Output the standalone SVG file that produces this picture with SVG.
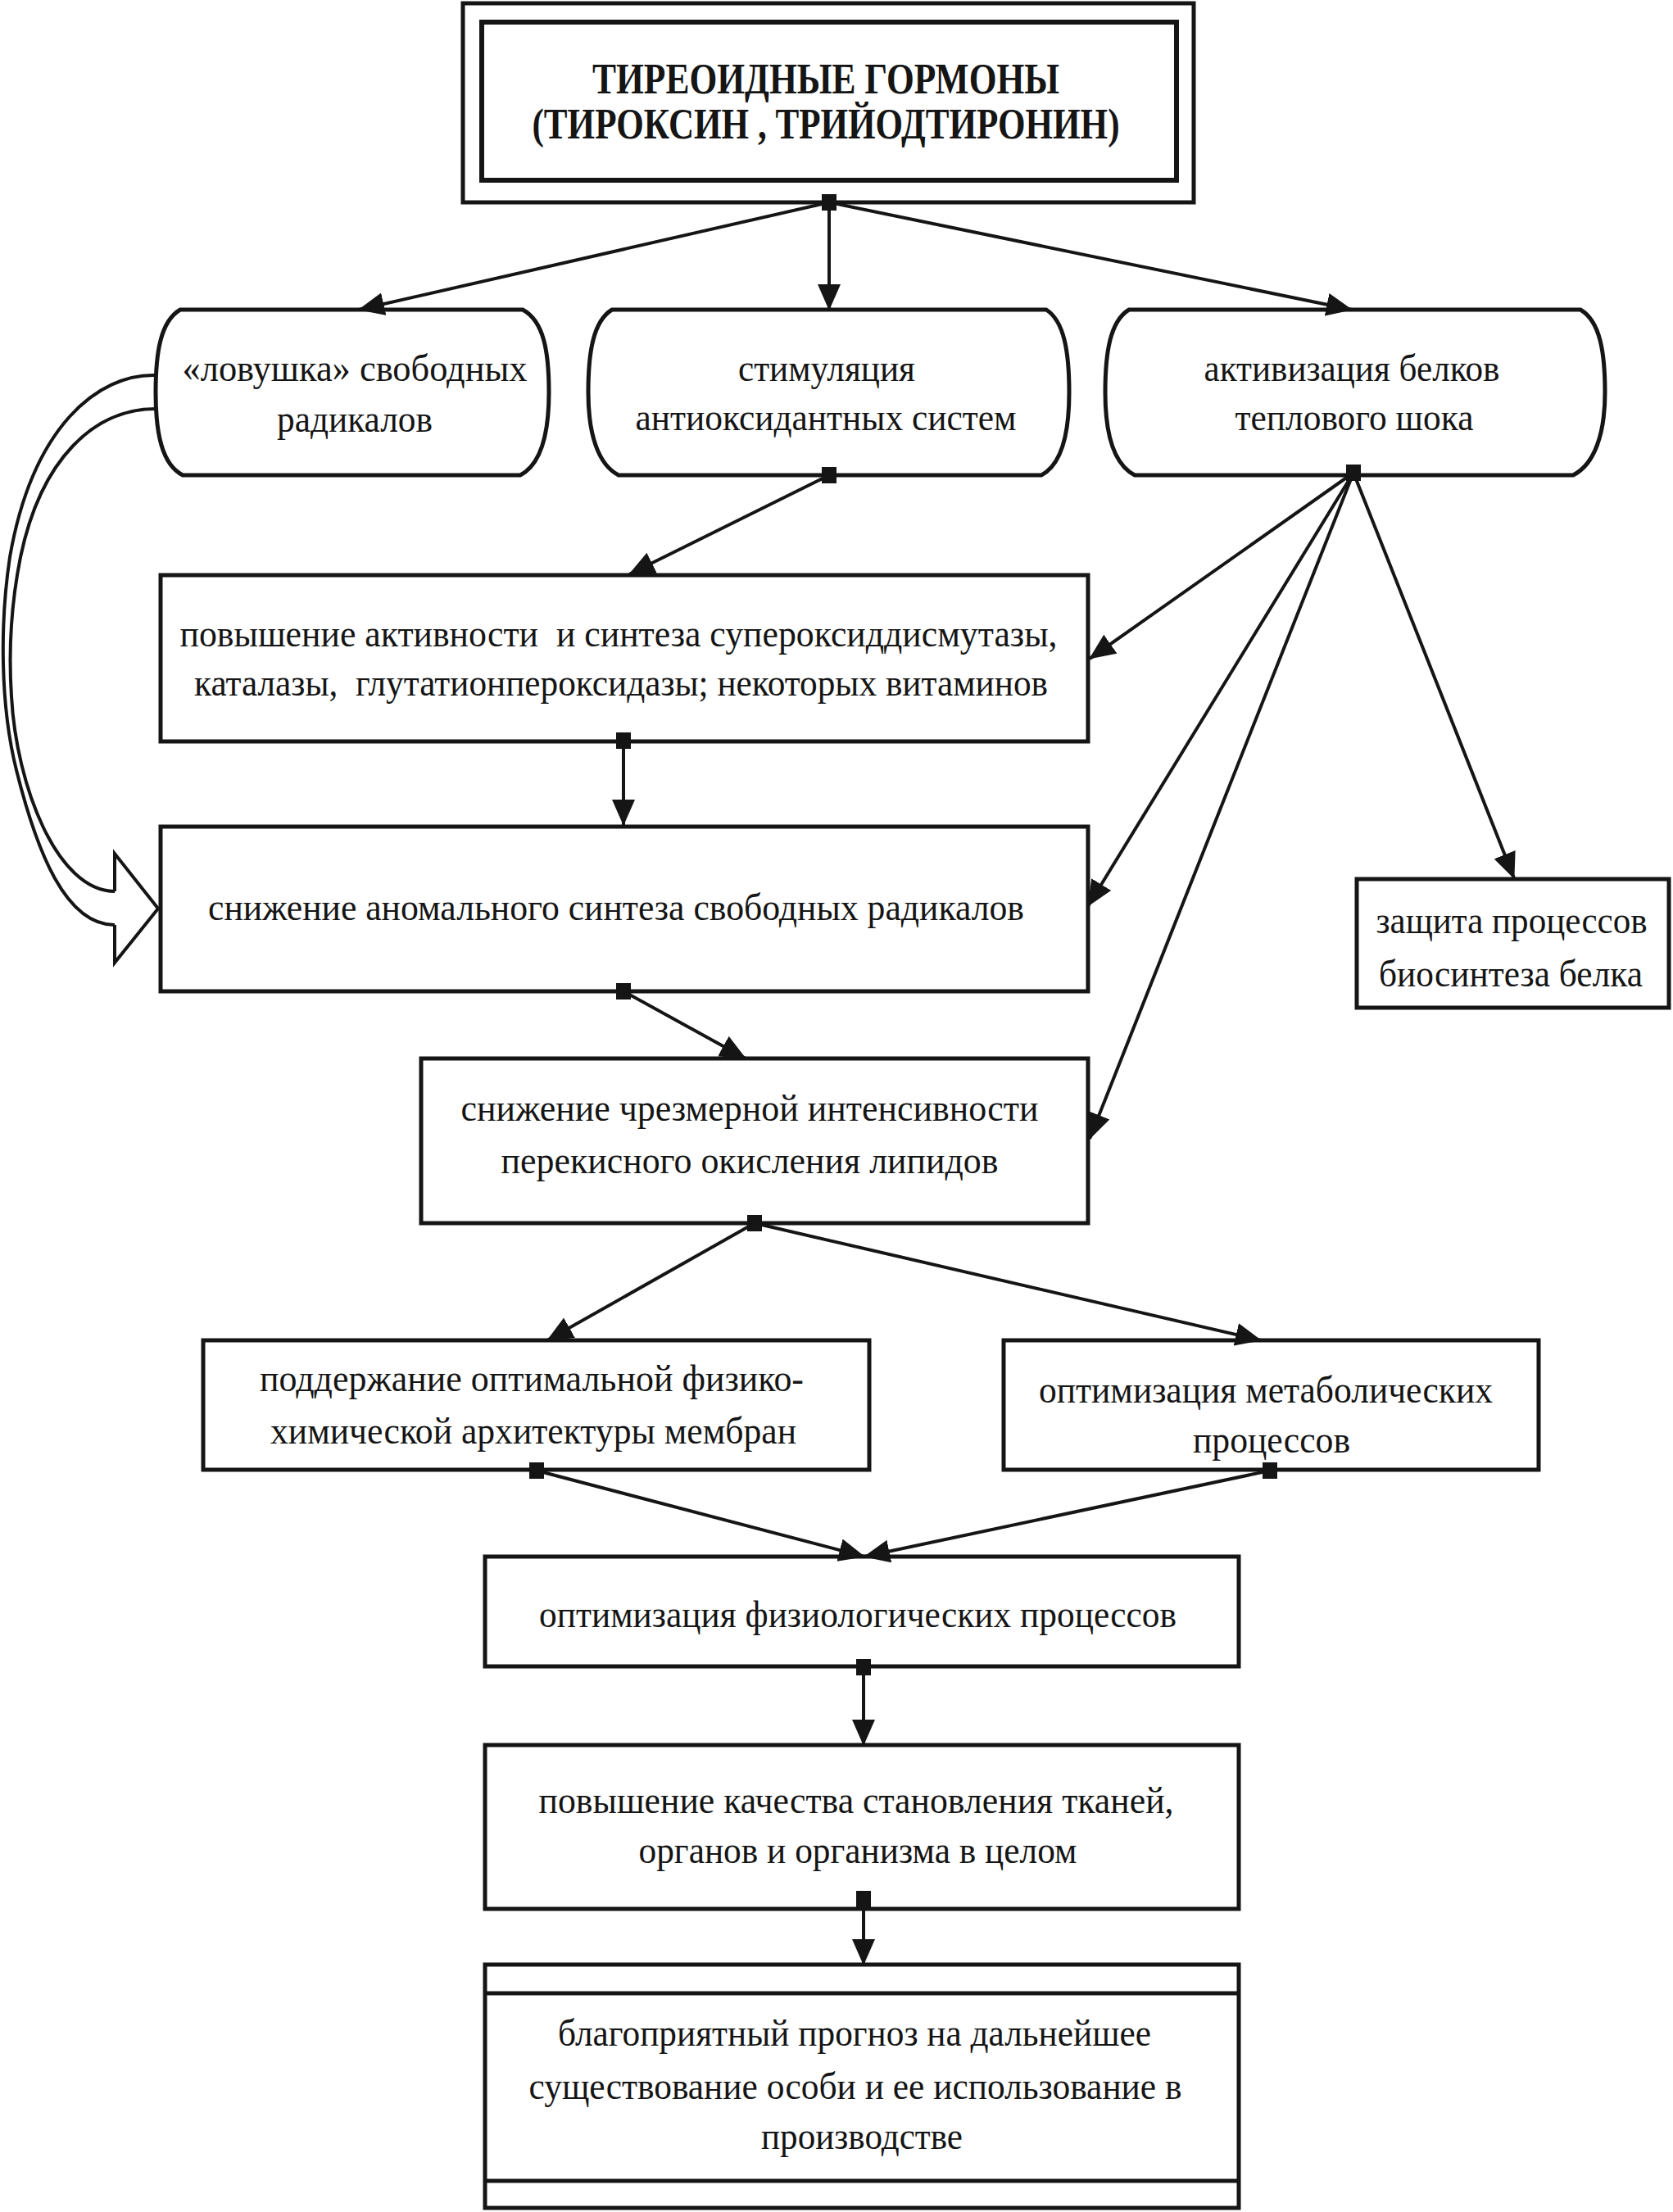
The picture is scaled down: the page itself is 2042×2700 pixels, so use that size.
<svg xmlns="http://www.w3.org/2000/svg" width="2042" height="2700" viewBox="0 0 2042 2700">
<style>
.box{fill:#fff;stroke:#151515;stroke-width:5}
.con{fill:none;stroke:#151515;stroke-width:4}
.arr{marker-start:url(#dot);marker-end:url(#ah)}
.t{font-family:"Liberation Serif","Times New Roman",serif;font-size:46px;fill:#151515;text-anchor:middle}
.tb{font-family:"Liberation Serif","Times New Roman",serif;font-size:52px;font-weight:bold;fill:#151515;text-anchor:middle}
</style>
<defs>
<marker id="ah" markerUnits="userSpaceOnUse" markerWidth="32" markerHeight="28" viewBox="0 0 32 28" refX="31" refY="14" orient="auto"><path d="M0,0 L32,14 L0,28 Z" fill="#151515"/></marker>
<marker id="dot" markerUnits="userSpaceOnUse" markerWidth="18" markerHeight="20" viewBox="0 0 18 20" refX="9" refY="10"><rect width="18" height="20" fill="#151515"/></marker>
</defs>
<rect width="2042" height="2700" fill="#fff"/>

<g id="n-title">
<rect class="box" x="565" y="4" width="892" height="243"/>
<rect class="box" x="588" y="27" width="848" height="193" style="stroke-width:6"/>
<text class="tb" x="1008" y="114" textLength="570" lengthAdjust="spacingAndGlyphs">ТИРЕОИДНЫЕ ГОРМОНЫ</text>
<text class="tb" x="1008" y="169" textLength="717" lengthAdjust="spacingAndGlyphs">(ТИРОКСИН , ТРИЙОДТИРОНИН)</text>
</g>

<g id="n-trap">
<path class="box" d="M220,378 H638 C664,392 670,430 670,479 C670,530 660,567 635,580 H223 C198,567 190,530 190,479 C190,430 196,392 220,378 Z"/>
<text class="t" x="433" y="465" textLength="421" lengthAdjust="spacingAndGlyphs">«ловушка» свободных</text>
<text class="t" x="433" y="527" textLength="190" lengthAdjust="spacingAndGlyphs">радикалов</text>
</g>

<g id="n-stim">
<path class="box" d="M747,378 H1277 C1299,392 1305,430 1305,479 C1305,530 1296,567 1271,580 H755 C730,567 718,530 718,479 C718,430 724,392 747,378 Z"/>
<text class="t" x="1009" y="465" textLength="216" lengthAdjust="spacingAndGlyphs">стимуляция</text>
<text class="t" x="1008" y="525" textLength="465" lengthAdjust="spacingAndGlyphs">антиоксидантных систем</text>
</g>

<g id="n-heat">
<path class="box" d="M1378,378 H1929 C1953,392 1959,430 1959,479 C1959,530 1946,567 1920,580 H1385 C1360,567 1349,530 1349,479 C1349,430 1355,392 1378,378 Z"/>
<text class="t" x="1650" y="465" textLength="361" lengthAdjust="spacingAndGlyphs">активизация белков</text>
<text class="t" x="1653" y="525" textLength="291" lengthAdjust="spacingAndGlyphs">теплового шока</text>
</g>

<g id="n-sod">
<rect class="box" x="196" y="702" width="1132" height="203"/>
<text class="t" x="755" y="789" textLength="1071" lengthAdjust="spacingAndGlyphs" xml:space="preserve">повышение активности  и синтеза супероксиддисмутазы,</text>
<text class="t" x="758" y="849" textLength="1042" lengthAdjust="spacingAndGlyphs" xml:space="preserve">каталазы,  глутатионпероксидазы; некоторых витаминов</text>
</g>

<g id="n-radicals">
<rect class="box" x="196" y="1009" width="1132" height="201"/>
<text class="t" x="752" y="1123" textLength="996" lengthAdjust="spacingAndGlyphs">снижение аномального синтеза свободных радикалов</text>
</g>

<g id="n-protect">
<rect class="box" x="1656" y="1073" width="381" height="157"/>
<text class="t" x="1845" y="1139" textLength="331" lengthAdjust="spacingAndGlyphs">защита процессов</text>
<text class="t" x="1844" y="1204" textLength="322" lengthAdjust="spacingAndGlyphs">биосинтеза белка</text>
</g>

<g id="n-lipid">
<rect class="box" x="514" y="1292" width="814" height="201"/>
<text class="t" x="915" y="1368" textLength="705" lengthAdjust="spacingAndGlyphs">снижение чрезмерной интенсивности</text>
<text class="t" x="915" y="1432" textLength="607" lengthAdjust="spacingAndGlyphs">перекисного окисления липидов</text>
</g>

<g id="n-membrane">
<rect class="box" x="248" y="1636" width="813" height="158"/>
<text class="t" x="649" y="1698" textLength="664" lengthAdjust="spacingAndGlyphs">поддержание оптимальной физико-</text>
<text class="t" x="651" y="1762" textLength="642" lengthAdjust="spacingAndGlyphs">химической архитектуры мембран</text>
</g>

<g id="n-metab">
<rect class="box" x="1225" y="1636" width="653" height="158"/>
<text class="t" x="1545" y="1712" textLength="554" lengthAdjust="spacingAndGlyphs">оптимизация метаболических</text>
<text class="t" x="1552" y="1773" textLength="192" lengthAdjust="spacingAndGlyphs">процессов</text>
</g>

<g id="n-physio">
<rect class="box" x="592" y="1900" width="920" height="134"/>
<text class="t" x="1047" y="1986" textLength="778" lengthAdjust="spacingAndGlyphs">оптимизация физиологических процессов</text>
</g>

<g id="n-quality">
<rect class="box" x="592" y="2130" width="920" height="200"/>
<text class="t" x="1045" y="2213" textLength="775" lengthAdjust="spacingAndGlyphs">повышение качества становления тканей,</text>
<text class="t" x="1047" y="2274" textLength="535" lengthAdjust="spacingAndGlyphs">органов и организма в целом</text>
</g>

<g id="n-prognosis">
<rect class="box" x="592" y="2398" width="920" height="297"/>
<line class="con" style="stroke-width:5" x1="592" y1="2433" x2="1512" y2="2433"/>
<line class="con" style="stroke-width:5" x1="592" y1="2662" x2="1512" y2="2662"/>
<text class="t" x="1043" y="2497" textLength="724" lengthAdjust="spacingAndGlyphs">благоприятный прогноз на дальнейшее</text>
<text class="t" x="1044" y="2562" textLength="797" lengthAdjust="spacingAndGlyphs">существование особи и ее использование в</text>
<text class="t" x="1052" y="2623" textLength="246" lengthAdjust="spacingAndGlyphs">производстве</text>
</g>

<g id="connectors">
<path class="con arr" d="M1012,247 L438,378"/>
<path class="con arr" d="M1012,247 L1012,378"/>
<path class="con arr" d="M1012,247 L1650,378"/>
<path class="con arr" d="M1012,580 L768,701"/>
<path class="con arr" d="M1652,577 L1330,804"/>
<path class="con arr" d="M1652,577 L1328,1106"/>
<path class="con arr" d="M1652,577 L1330,1390"/>
<path class="con arr" d="M1652,577 L1848,1072"/>
<path class="con arr" d="M761,904 L761,1007"/>
<path class="con arr" d="M761,1210 L910,1292"/>
<path class="con arr" d="M921,1493 L668,1636"/>
<path class="con arr" d="M921,1493 L1539,1636"/>
<path class="con arr" d="M655,1795 L1055,1900"/>
<path class="con arr" d="M1550,1795 L1055,1900"/>
<path class="con arr" d="M1054,2035 L1054,2130"/>
<path class="con arr" d="M1054,2318 L1054,2398"/>
<g id="hollow-arrow">
<path class="con" d="M190,458 C120,456 40,520 12,680 C0,760 0,860 20,940 C45,1040 80,1129 140,1129"/>
<path class="con" d="M190,499 C115,499 50,560 25,680 C15,730 10,790 14,850 C20,960 70,1088 140,1088"/>
<path class="con" style="fill:#fff" d="M140,1088 L140,1042 L193,1109 L140,1175 L140,1129"/>
</g>
</g>
</svg>
